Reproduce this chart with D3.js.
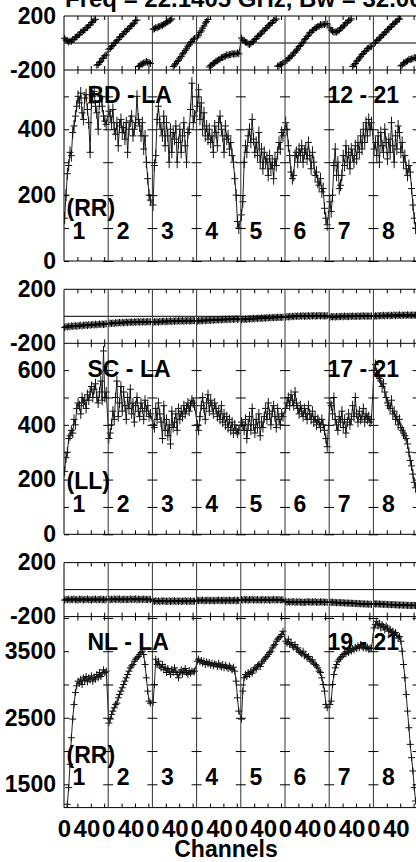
<!DOCTYPE html>
<html>
<head>
<meta charset="utf-8">
<script src="https://cdn.jsdelivr.net/npm/d3@7"></script>
<style>
  body { margin: 0; background: #fff; }
  svg { display: block; }
  text { font-family: "Liberation Sans", Arial, sans-serif; font-weight: bold; font-size: 23px; fill: #000; }
  .title { font-size: 24px; }
  .chan text { font-size: 24px; }
</style>
</head>
<body>
<div id="chart"></div>
<script>
// IF numbers and channel sampling
const ifNames = ["1", "2", "3", "4", "5", "6", "7", "8"];
const chans = [1, 3, 5, 7, 9, 11, 13, 15, 17, 19, 21, 23, 25, 27, 29, 31, 33, 35, 37, 39, 41, 43, 45, 47, 49, 51, 53, 55, 57, 59, 61, 63];
const chanTicks = [20, 40, 60];
const chanLabels = [0, 40];

// BD - LA (RR)
const bdAmp = [
  [130, 200, 265, 290, 330, 320, 390, 410, 440, 470, 500, 480, 510, 450, 430, 495, 505, 460, 420, 330, 480, 500, 515, 470, 450, 400, 485, 500, 470, 440, 425, 415],
  [455, 440, 420, 460, 400, 385, 420, 350, 410, 430, 390, 405, 370, 420, 330, 400, 425, 440, 380, 400, 420, 500, 430, 410, 380, 420, 340, 380, 300, 250, 200, 185],
  [170, 290, 320, 430, 470, 420, 400, 380, 440, 350, 420, 380, 300, 400, 330, 390, 370, 410, 300, 360, 400, 330, 380, 420, 350, 300, 390, 400, 460, 540, 420, 440],
  [470, 520, 430, 480, 400, 450, 380, 410, 370, 400, 360, 380, 330, 410, 390, 350, 420, 440, 400, 380, 330, 410, 370, 380, 340, 360, 320, 300, 250, 200, 120, 100],
  [140, 180, 300, 350, 330, 380, 400, 360, 430, 370, 330, 360, 320, 390, 300, 340, 280, 330, 300, 310, 260, 320, 280, 300, 250, 310, 290, 330, 360, 340, 390, 380],
  [420, 400, 350, 320, 270, 250, 260, 320, 330, 300, 340, 320, 350, 300, 330, 340, 310, 360, 320, 280, 330, 300, 260, 270, 240, 230, 250, 210, 220, 160, 130, 110],
  [180, 150, 200, 290, 340, 260, 300, 220, 230, 260, 320, 290, 350, 300, 330, 280, 340, 320, 300, 350, 310, 360, 330, 380, 340, 400, 360, 420, 380, 430, 400, 420],
  [340, 360, 320, 380, 300, 390, 350, 330, 400, 360, 310, 370, 330, 420, 350, 300, 380, 340, 410, 390, 330, 360, 300, 320, 280, 260, 290, 270, 220, 170, 130, 100]
];
const bdPhase = [
  [35, 22, 17, 8, 14, 13, 25, 27, 42, 45, 58, 63, 79, 81, 93, 97, 112, 115, 128, 135, 152, 155, 170, 176, -164, -160, -145, -135, -116, -111, -94, -88],
  [-46, -41, -28, -18, -1, 3, 16, 26, 44, 48, 60, 68, 84, 88, 100, 107, 124, 128, 140, 148, 166, 170, -174, -169, -156, -156, -148, -146, -136, -144, -144, -152],
  [102, 106, 114, 112, 120, 122, 132, 130, 138, 144, 156, 156, 165, 170, 178, -174, -163, -154, -136, -128, -112, -100, -81, -72, -55, -43, -24, -14, 4, 12, 28, 34],
  [44, 58, 79, 90, 110, 126, 148, 158, 175, -178, -166, -162, -152, -146, -134, -132, -124, -120, -108, -108, -100, -98, -88, -91, -86, -86, -78, -83, -80, -81, -74, -80],
  [37, 22, 16, 6, 4, -7, -10, -5, 8, 13, 26, 33, 49, 53, 65, 73, 89, 93, 105, 113, 129, 133, 145, 152, 167, 169, 178, -172, -168, -159, -158, -148],
  [-133, -128, -114, -110, -98, -90, -74, -68, -55, -44, -26, -20, -5, 6, 24, 32, 48, 58, 76, 80, 92, 98, 112, 113, 122, 125, 136, 133, 138, 137, 144, 141],
  [112, 96, 88, 80, 82, 81, 88, 94, 109, 113, 125, 133, 149, 153, 165, 169, 179, -174, -162, -152, -134, -127, -112, -102, -84, -78, -65, -57, -41, -38, -28, -26],
  [-3, 4, 19, 23, 35, 43, 59, 63, 75, 83, 99, 103, 115, 123, 139, 143, 155, 161, 175, 178, -170, -163, -148, -147, -138, -133, -121, -123, -118, -117, -108, -110]
];

// SC - LA (LL)
const scAmp = [
  [230, 280, 300, 350, 360, 380, 370, 420, 400, 460, 480, 470, 440, 500, 480, 490, 460, 510, 490, 520, 540, 500, 530, 550, 500, 480, 520, 560, 490, 670, 500, 520],
  [350, 370, 400, 450, 420, 500, 560, 430, 480, 540, 450, 520, 470, 420, 500, 460, 530, 440, 480, 410, 470, 500, 450, 430, 480, 460, 420, 490, 450, 470, 430, 440],
  [400, 390, 460, 420, 480, 440, 410, 350, 470, 380, 420, 360, 400, 330, 450, 390, 410, 440, 380, 460, 420, 450, 430, 470, 440, 460, 480, 450, 470, 490, 480, 470],
  [400, 380, 430, 470, 500, 460, 420, 480, 510, 450, 490, 470, 440, 480, 460, 430, 450, 420, 470, 410, 440, 400, 430, 390, 420, 380, 410, 370, 400, 380, 370, 380],
  [410, 400, 380, 420, 350, 400, 430, 380, 460, 400, 370, 420, 390, 440, 360, 410, 390, 430, 460, 420, 480, 440, 400, 450, 470, 430, 390, 460, 420, 400, 440, 430],
  [460, 480, 500, 470, 510, 490, 470, 520, 480, 460, 440, 470, 450, 430, 460, 440, 420, 470, 440, 420, 450, 410, 430, 400, 420, 410, 390, 420, 400, 380, 350, 320],
  [480, 470, 440, 500, 420, 400, 380, 430, 410, 450, 390, 420, 370, 410, 440, 400, 420, 470, 430, 500, 440, 410, 450, 420, 430, 460, 410, 440, 420, 430, 410, 420],
  [600, 620, 590, 580, 570, 560, 540, 550, 520, 500, 480, 470, 460, 490, 440, 450, 420, 430, 400, 420, 390, 380, 370, 360, 350, 330, 300, 270, 250, 220, 190, 170]
];
const scPhase = [
  [-84, -76, -79, -73, -78, -71, -75, -72, -70, -74, -68, -71, -66, -72, -65, -68, -63, -69, -62, -66, -64, -60, -65, -58, -63, -61, -57, -62, -56, -60, -58, -55],
  [-56, -50, -53, -49, -54, -47, -51, -48, -45, -50, -44, -49, -46, -42, -48, -43, -45, -41, -47, -40, -44, -42, -39, -45, -40, -43, -38, -44, -41, -39, -42, -40],
  [-45, -40, -43, -39, -44, -37, -41, -38, -36, -42, -35, -40, -37, -34, -39, -35, -37, -33, -38, -32, -36, -34, -31, -37, -33, -35, -30, -36, -32, -34, -31, -33],
  [-37, -32, -35, -30, -34, -29, -33, -28, -31, -27, -32, -26, -30, -25, -29, -24, -28, -23, -27, -22, -26, -21, -25, -22, -20, -24, -19, -23, -20, -18, -22, -19],
  [-26, -21, -24, -19, -23, -18, -21, -16, -20, -15, -19, -14, -17, -13, -16, -12, -15, -11, -14, -10, -13, -9, -12, -8, -11, -7, -10, -6, -9, -7, -8, -6],
  [-7, -2, -5, 0, -4, 1, -3, 2, -1, 3, -2, 4, 0, 5, -1, 3, 1, 5, 0, 4, 2, 6, 1, 4, 3, 6, 2, 5, 3, 4, 2, 5],
  [-7, -2, -5, -1, -6, 0, -4, -1, -3, 1, -4, 2, -2, 0, -3, 2, -1, 3, -2, 1, 0, 3, -1, 2, 1, 4, 0, 3, 1, 2, 0, 3],
  [-1, 4, 1, 5, 2, 6, 3, 8, 2, 7, 4, 9, 3, 8, 5, 10, 4, 9, 6, 11, 5, 9, 7, 10, 6, 11, 7, 9, 8, 10, 7, 9]
];

// NL - LA (RR)
const nlAmp = [
  [1000, 1080, 1200, 1450, 1800, 2200, 2480, 2700, 2880, 2980, 3050, 3020, 3080, 3000, 3100, 3060, 3120, 3040, 3100, 3070, 3130, 3050, 3110, 3080, 3150, 3100, 3180, 3120, 3160, 3220, 3180, 3200],
  [2420, 2480, 2550, 2600, 2650, 2700, 2720, 2800, 2850, 2900, 2950, 3000, 3050, 3100, 3150, 3200, 3250, 3280, 3300, 3350, 3380, 3400, 3420, 3450, 3480, 3500, 3450, 3300, 3100, 2900, 2750, 2720],
  [2730, 3000, 3380, 3300, 3350, 3280, 3250, 3300, 3220, 3260, 3180, 3240, 3200, 3150, 3230, 3180, 3250, 3200, 3150, 3100, 3180, 3220, 3160, 3200, 3240, 3180, 3150, 3210, 3170, 3200, 3190, 3200],
  [3350, 3380, 3340, 3360, 3320, 3350, 3300, 3340, 3310, 3330, 3290, 3320, 3280, 3310, 3300, 3270, 3320, 3280, 3260, 3300, 3250, 3290, 3260, 3240, 3280, 3250, 3220, 3260, 3200, 3050, 2800, 2600],
  [2480, 2900, 3100, 3150, 3120, 3180, 3150, 3200, 3170, 3220, 3250, 3230, 3280, 3300, 3270, 3320, 3350, 3380, 3400, 3420, 3450, 3480, 3500, 3550, 3580, 3600, 3650, 3680, 3700, 3720, 3750, 3800],
  [3650, 3620, 3680, 3600, 3630, 3580, 3560, 3600, 3530, 3550, 3500, 3480, 3460, 3500, 3430, 3450, 3400, 3420, 3380, 3350, 3370, 3320, 3300, 3280, 3250, 3200, 3180, 3100, 3000, 2900, 2700, 2650],
  [2700, 2750, 3000, 3150, 3250, 3300, 3350, 3380, 3400, 3420, 3450, 3470, 3460, 3500, 3480, 3520, 3500, 3540, 3520, 3560, 3540, 3580, 3550, 3600, 3570, 3550, 3580, 3540, 3560, 3530, 3550, 3540],
  [3850, 3900, 3950, 3880, 3920, 3850, 3900, 3870, 3820, 3880, 3850, 3800, 3830, 3780, 3800, 3760, 3780, 3740, 3700, 3720, 3650, 3500, 3300, 3100, 2850, 2600, 2350, 2100, 1900, 1700, 1450, 1250]
];
const nlPhase = [
  [-78, -71, -76, -70, -77, -72, -75, -69, -76, -73, -78, -70, -74, -71, -77, -72, -75, -69, -76, -73, -78, -71, -74, -70, -77, -72, -75, -70, -76, -73, -77, -72],
  [-70, -76, -71, -74, -68, -75, -70, -73, -69, -76, -71, -74, -70, -75, -72, -74, -69, -75, -71, -73, -68, -76, -70, -74, -71, -75, -69, -73, -72, -76, -70, -74],
  [-84, -88, -82, -87, -83, -89, -84, -86, -82, -88, -85, -87, -83, -89, -85, -86, -82, -88, -84, -87, -83, -89, -85, -86, -82, -88, -84, -87, -83, -88, -85, -86],
  [-78, -83, -79, -82, -77, -84, -80, -81, -78, -83, -79, -82, -80, -84, -79, -81, -77, -83, -80, -82, -78, -84, -79, -81, -78, -83, -80, -82, -77, -84, -79, -81],
  [-74, -78, -72, -77, -73, -79, -74, -76, -72, -78, -75, -77, -73, -78, -76, -77, -72, -78, -74, -77, -73, -79, -75, -76, -72, -78, -74, -77, -73, -78, -75, -77],
  [-88, -93, -89, -94, -90, -92, -88, -95, -91, -93, -89, -94, -92, -95, -93, -94, -89, -93, -90, -94, -91, -93, -88, -95, -92, -94, -90, -93, -91, -95, -92, -94],
  [-92, -95, -93, -96, -94, -98, -95, -97, -96, -99, -97, -100, -98, -101, -99, -102, -100, -103, -101, -104, -102, -105, -103, -106, -104, -107, -105, -108, -106, -109, -107, -110],
  [-104, -107, -105, -108, -106, -109, -107, -110, -108, -111, -109, -112, -110, -112, -111, -113, -112, -114, -113, -115, -113, -116, -114, -116, -115, -117, -116, -118, -117, -118, -116, -119]
];

// layout
const width = 416, height = 862;
const plotLeft = 64, ifWidth = 44.2;
const blockTop0 = 16, blockStep = 273.3, phaseH = 54, ampH = 191;

const baselines = [
  { name: "BD - LA", ifs: "12 - 21", pol: "(RR)", amp: bdAmp, phase: bdPhase,
    domain: [0, 580], ticks: [0, 100, 200, 300, 400, 500], labels: [0, 200, 400], err: 6 },
  { name: "SC - LA", ifs: "17 - 21", pol: "(LL)", amp: scAmp, phase: scPhase,
    domain: [0, 698], ticks: [0, 100, 200, 300, 400, 500, 600], labels: [0, 200, 400, 600], err: 5 },
  { name: "NL - LA", ifs: "19 - 21", pol: "(RR)", amp: nlAmp, phase: nlPhase,
    domain: [1150, 4020], ticks: [1500, 2000, 2500, 3000, 3500, 4000], labels: [1500, 2500, 3500], err: 3.5 }
];

const svg = d3.select("#chart")
  .append("svg")
  .attr("width", width)
  .attr("height", height);

const xIF = d3.scaleLinear().domain([0, 8]).range([plotLeft, plotLeft + 8 * ifWidth]);
const xCh = d3.scaleLinear().domain([0, 66]).range([0, ifWidth]);
const right = xIF(8);

// "+" marker with vertical error bar
function plusPath(x, y, e) {
  return `M${x - 3.5},${y}h7M${x},${y - e}v${2 * e}`;
}

function stripAxis(g) {
  g.select(".domain").remove();
  g.attr("font-size", null).attr("font-family", null);
}

// title (partly cut off at the top, as in the original)
svg.append("text")
  .attr("class", "title")
  .attr("x", 65)
  .attr("y", 7)
  .text("Freq = 22.1405 GHz, Bw = 32.000 MHz");

baselines.forEach((b, bi) => {
  const top = blockTop0 + bi * blockStep;
  const mid = top + phaseH;
  const bottom = mid + ampH;

  const yPh = d3.scaleLinear().domain([-200, 200]).range([mid, top]);
  const yAmp = d3.scaleLinear().domain(b.domain).range([bottom, mid]);

  const g = svg.append("g");

  // clip for amplitude data
  const clipId = "clip" + bi;
  svg.append("clipPath").attr("id", clipId)
    .append("rect")
    .attr("x", plotLeft).attr("y", mid)
    .attr("width", right - plotLeft).attr("height", ampH);

  // amplitude line + markers
  const ampPts = b.amp.flatMap((vals, k) => vals.map((v, i) => ({ x: xIF(k) + xCh(chans[i]), v })));
  const ampLine = d3.line().x(d => d.x).y(d => yAmp(d.v));
  const ga = g.append("g").attr("clip-path", `url(#${clipId})`);
  ga.append("path")
    .attr("d", ampLine(ampPts))
    .attr("fill", "none")
    .attr("stroke", "#222")
    .attr("stroke-width", 1);
  ga.append("path")
    .attr("d", ampPts.map(d => plusPath(d.x, yAmp(d.v), b.err)).join(""))
    .attr("fill", "none")
    .attr("stroke", "#111")
    .attr("stroke-width", 1);

  // phase: split where the phase wraps
  const phPts = b.phase.flatMap((vals, k) => vals.map((v, i) => ({ x: xIF(k) + xCh(chans[i]), v })));
  const runs = [[phPts[0]]];
  for (let i = 1; i < phPts.length; i++) {
    if (Math.abs(phPts[i].v - phPts[i - 1].v) > 180) runs.push([]);
    runs[runs.length - 1].push(phPts[i]);
  }
  const phLine = d3.line().x(d => d.x).y(d => yPh(d.v));
  g.append("path")
    .attr("d", runs.map(r => phLine(r)).join(""))
    .attr("fill", "none")
    .attr("stroke", "#111")
    .attr("stroke-width", 1);
  g.append("path")
    .attr("d", phPts.map(d => plusPath(d.x, yPh(d.v), 3.5)).join(""))
    .attr("fill", "none")
    .attr("stroke", "#000")
    .attr("stroke-width", 1);

  // frame
  const frame = g.append("g").attr("stroke", "#000").attr("stroke-width", 1).attr("fill", "none");
  [top, mid, bottom, yPh(0)].forEach(y => {
    frame.append("line").attr("x1", plotLeft).attr("x2", right).attr("y1", y).attr("y2", y);
  });
  d3.range(0, 9).forEach(k => {
    frame.append("line")
      .attr("x1", xIF(k)).attr("x2", xIF(k))
      .attr("y1", top).attr("y2", bottom)
      .attr("stroke", k === 0 ? "#000" : "#333");
  });

  // amplitude ticks on each IF border
  d3.range(0, 9).forEach(k => {
    if (k < 8) {
      g.append("g").attr("transform", `translate(${xIF(k)},0)`)
        .call(d3.axisRight(yAmp).tickValues(b.ticks).tickSize(5).tickFormat(""))
        .call(stripAxis);
    }
    if (k > 0) {
      g.append("g").attr("transform", `translate(${xIF(k)},0)`)
        .call(d3.axisLeft(yAmp).tickValues(b.ticks).tickSize(5).tickFormat(""))
        .call(stripAxis);
    }
  });

  // channel ticks, pointing inwards from each horizontal border
  ifNames.forEach((name, k) => {
    const x0 = xIF(k);
    g.append("g").attr("transform", `translate(${x0},${top})`)
      .call(d3.axisBottom(xCh).tickValues(chanTicks).tickSize(4).tickFormat(""))
      .call(stripAxis);
    g.append("g").attr("transform", `translate(${x0},${mid})`)
      .call(d3.axisTop(xCh).tickValues(chanTicks).tickSize(4).tickFormat(""))
      .call(stripAxis);
    g.append("g").attr("transform", `translate(${x0},${mid})`)
      .call(d3.axisBottom(xCh).tickValues(chanTicks).tickSize(4).tickFormat(""))
      .call(stripAxis);
    g.append("g").attr("transform", `translate(${x0},${bottom})`)
      .call(d3.axisTop(xCh).tickValues(chanTicks).tickSize(4).tickFormat(""))
      .call(stripAxis);
  });

  // y labels
  g.append("g").attr("transform", `translate(${plotLeft},0)`)
    .call(d3.axisLeft(yPh).tickValues([200, -200]).tickSize(0).tickPadding(8).tickFormat(d => String(d)))
    .call(stripAxis);
  g.append("g").attr("transform", `translate(${plotLeft},0)`)
    .call(d3.axisLeft(yAmp).tickValues(b.labels).tickSize(0).tickPadding(8).tickFormat(d => String(d)))
    .call(stripAxis);

  // panel text
  g.append("text").attr("x", 87.5).attr("y", mid + 33.3).text(b.name);
  g.append("text").attr("x", 327.5).attr("y", mid + 33.3).text(b.ifs);
  g.append("text").attr("x", 66.5).attr("y", bottom - 45).text(b.pol);
  ifNames.forEach((name, k) => {
    g.append("text")
      .attr("x", xIF(k) + 15)
      .attr("y", bottom - 22.5)
      .attr("text-anchor", "middle")
      .text(name);
  });

  // channel labels under the last block
  if (bi === baselines.length - 1) {
    ifNames.forEach((name, k) => {
      const ax = g.append("g").attr("class", "chan")
        .attr("transform", `translate(${xIF(k)},${bottom})`)
        .call(d3.axisBottom(xCh).tickValues(chanLabels).tickSize(0).tickFormat(d => String(d)))
        .call(stripAxis);
      ax.selectAll("text")
        .attr("y", 12)
        .attr("dy", "0.71em")
        .attr("dx", d => (d === 40 ? -4.4 : 0));
    });
    svg.append("text")
      .attr("x", 226)
      .attr("y", 857)
      .attr("text-anchor", "middle")
      .text("Channels");
  }
});
</script>
</body>
</html>
